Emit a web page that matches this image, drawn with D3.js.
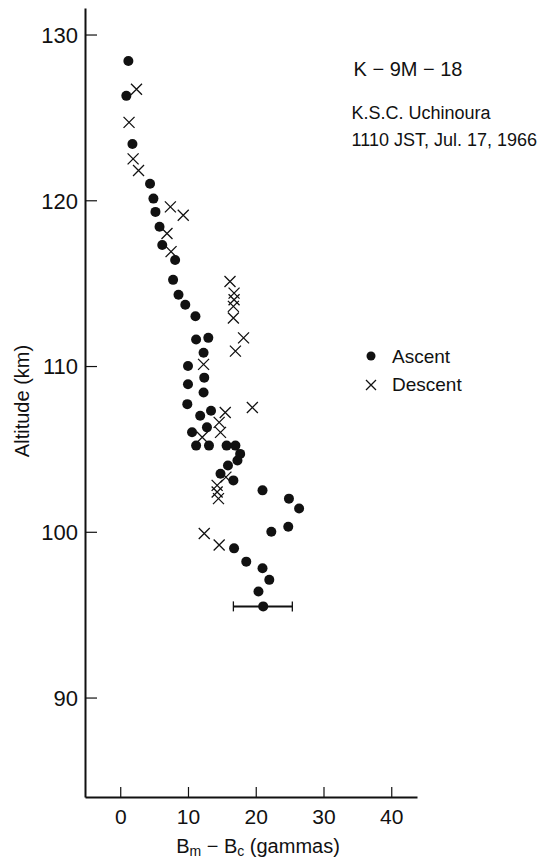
<!DOCTYPE html>
<html>
<head>
<meta charset="utf-8">
<script src="https://cdn.jsdelivr.net/npm/d3@7"></script>
<style>
  body { margin: 0; background: #fff; }
  svg text { font-family: "Liberation Sans", Arial, sans-serif; fill: #111; }
</style>
</head>
<body>
<script>
// ascent points (filled circles): [Bm-Bc in gammas, altitude km]
var ascentX = [1.2, 0.9, 1.8, 4.4, 4.9, 5.2, 5.8, 6.2, 8.1, 7.8, 8.6, 9.6, 11.1, 11.2, 13.0,
  12.3, 10.0, 12.4, 10.0, 12.3, 9.9, 11.8, 13.4, 10.6, 12.8, 11.2, 13.1, 15.7, 17.0, 17.7,
  17.3, 15.9, 14.8, 16.7, 21.0, 24.9, 26.4, 24.8, 22.3, 16.8, 18.6, 21.0, 22.0, 20.4, 21.1];
var ascentY = [128.4, 126.3, 123.4, 121.0, 120.1, 119.3, 118.4, 117.3, 116.4, 115.2, 114.3, 113.7, 113.0, 111.6, 111.7,
  110.8, 110.0, 109.3, 108.9, 108.4, 107.7, 107.0, 107.3, 106.0, 106.3, 105.2, 105.2, 105.2, 105.2, 104.7,
  104.3, 104.0, 103.5, 103.1, 102.5, 102.0, 101.4, 100.3, 100.0, 99.0, 98.2, 97.8, 97.1, 96.4, 95.5];

// descent points (crosses)
var descentX = [2.4, 1.3, 1.9, 2.7, 7.4, 9.3, 6.9, 7.5, 16.2, 16.8, 16.8, 16.7, 16.7, 18.2,
  17.0, 12.3, 19.5, 15.5, 14.6, 14.8, 12.1, 15.6, 14.3, 14.3, 14.5, 12.4, 14.6];
var descentY = [126.7, 124.7, 122.5, 121.8, 119.6, 119.1, 118.0, 116.9, 115.1, 114.4, 114.0, 113.6, 112.9, 111.7,
  110.9, 110.1, 107.5, 107.2, 106.6, 106.0, 105.7, 103.3, 102.8, 102.4, 102.0, 99.9, 99.2];

// error bar on the lowest ascent point
var errBar = {lo: 16.7, hi: 25.4, alt: 95.5};

var xTicks = [0, 10, 20, 30, 40];
var yTicks = [90, 100, 110, 120, 130];

var svgWidth = 539;
var svgHeight = 862;

var svg = d3.select("body").append("svg")
    .attr("width", svgWidth)
    .attr("height", svgHeight);

var x = d3.scaleLinear().domain([-5.2, 43.8]).range([85, 417]);
var y = d3.scaleLinear().domain([84.0, 131.6]).range([797, 8]);

// left axis, ticks pointing inward
var yAxis = svg.append("g")
    .attr("transform", "translate(" + x.range()[0] + ",0)")
    .call(d3.axisLeft(y).tickValues(yTicks).tickSizeInner(-12).tickSizeOuter(0).tickPadding(7));
yAxis.select(".domain").attr("stroke", "#111").attr("stroke-width", 2);
yAxis.selectAll(".tick line").attr("stroke", "#111").attr("stroke-width", 1.2);
yAxis.selectAll("text").style("font-size", "22px").attr("dy", "0.36em");

// bottom axis, ticks pointing up
var xAxis = svg.append("g")
    .attr("transform", "translate(0," + y.range()[0] + ")")
    .call(d3.axisBottom(x).tickValues(xTicks).tickSizeInner(-10).tickSizeOuter(0).tickPadding(12));
xAxis.select(".domain").attr("stroke", "#111").attr("stroke-width", 2);
xAxis.selectAll(".tick line").attr("stroke", "#111").attr("stroke-width", 1.2);
xAxis.selectAll("text").style("font-size", "21px");

// axis titles
svg.append("text")
    .attr("transform", "translate(29," + 401 + ") rotate(-90)")
    .attr("text-anchor", "middle")
    .style("font-size", "20px")
    .text("Altitude (km)");

var xl = svg.append("text")
    .attr("x", 258)
    .attr("y", 853)
    .attr("text-anchor", "middle")
    .style("font-size", "20px");
xl.append("tspan").text("B");
xl.append("tspan").attr("dy", 3).style("font-size", "14px").text("m");
xl.append("tspan").attr("dy", -3).text(" \u2212 B");
xl.append("tspan").attr("dy", 3).style("font-size", "14px").text("c");
xl.append("tspan").attr("dy", -3).text("  (gammas)");

// error bar
var eb = svg.append("g").attr("stroke", "#111").attr("stroke-width", 2);
eb.append("line")
    .attr("x1", x(errBar.lo)).attr("x2", x(errBar.hi))
    .attr("y1", y(errBar.alt)).attr("y2", y(errBar.alt));
[errBar.lo, errBar.hi].forEach(function(v) {
    eb.append("line")
        .attr("x1", x(v)).attr("x2", x(v))
        .attr("y1", y(errBar.alt) - 5).attr("y2", y(errBar.alt) + 5)
        .attr("stroke-width", 1.3);
});

// descent crosses
var cs = 5.5;
var descent = descentX.map(function(d, i) { return {x: d, y: descentY[i]}; });
svg.append("g").selectAll("path")
    .data(descent)
    .enter()
    .append("path")
    .attr("d", function(d) {
        var cx = x(d.x), cy = y(d.y);
        return "M" + (cx - cs) + "," + (cy - cs) + "L" + (cx + cs) + "," + (cy + cs) +
               "M" + (cx - cs) + "," + (cy + cs) + "L" + (cx + cs) + "," + (cy - cs);
    })
    .attr("stroke", "#111")
    .attr("stroke-width", 1.3)
    .attr("fill", "none");

// ascent circles
var ascent = ascentX.map(function(d, i) { return {x: d, y: ascentY[i]}; });
svg.append("g").selectAll("circle")
    .data(ascent)
    .enter()
    .append("circle")
    .attr("cx", function(d) { return x(d.x); })
    .attr("cy", function(d) { return y(d.y); })
    .attr("r", 5)
    .attr("fill", "#111");

// annotation block
svg.append("text")
    .attr("x", 408).attr("y", 76)
    .attr("text-anchor", "middle")
    .style("font-size", "20px")
    .text("K \u2212 9M \u2212 18");

var line3 = svg.append("text")
    .attr("x", 537).attr("y", 146)
    .attr("text-anchor", "end")
    .style("font-size", "18px")
    .text("1110 JST, Jul. 17, 1966");
var left = 537 - line3.node().getComputedTextLength();
svg.append("text")
    .attr("x", left).attr("y", 119)
    .style("font-size", "18px")
    .text("K.S.C.  Uchinoura");

// legend
svg.append("circle").attr("cx", 371).attr("cy", 356).attr("r", 4.5).attr("fill", "#111");
svg.append("path")
    .attr("d", "M366,380L376,390M366,390L376,380")
    .attr("stroke", "#111").attr("stroke-width", 1.3);
svg.append("text").attr("x", 392).attr("y", 363).style("font-size", "19px").text("Ascent");
svg.append("text").attr("x", 392).attr("y", 391).style("font-size", "19px").text("Descent");
</script>
</body>
</html>
